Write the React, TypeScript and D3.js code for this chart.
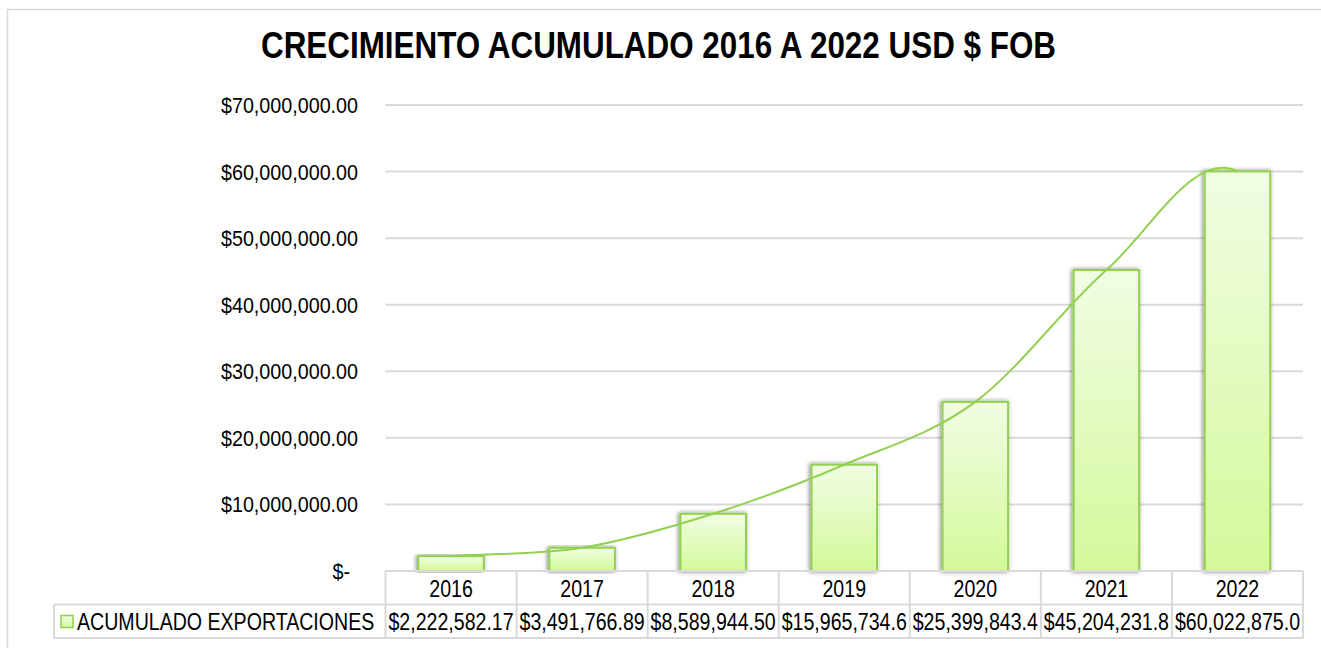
import React from "react";
import * as d3 from "d3";

const years = ["2016", "2017", "2018", "2019", "2020", "2021", "2022"];
const values = [2222582.17, 3491766.89, 8589944.5, 15965734.6, 25399843.4, 45204231.8, 60022875.0];
const valueLabels = ["$2,222,582.17", "$3,491,766.89", "$8,589,944.50", "$15,965,734.6", "$25,399,843.4", "$45,204,231.8", "$60,022,875.0"];
const yTicks = [0, 10000000, 20000000, 30000000, 40000000, 50000000, 60000000, 70000000];
const seriesName = "ACUMULADO EXPORTACIONES";
const title = "CRECIMIENTO ACUMULADO 2016 A 2022 USD $ FOB";

const W = 1321;
const H = 648;
const FONT = "'Liberation Sans', Arial, sans-serif";
const GREEN = "#92D050";
const GRID = "#d9d9d9";

function excelSmooth(pts: [number, number][]): string {
  const n = pts.length;
  const get = (i: number): [number, number] => {
    if (i < 0) {
      const [x0, y0] = pts[0];
      const [x1, y1] = pts[1];
      return [2 * x0 - x1, 2 * y0 - y1];
    }
    if (i >= n) {
      const [xa] = pts[n - 1];
      const [xb] = pts[n - 2];
      return [2 * xa - xb, pts[n - 3][1]];
    }
    return pts[i];
  };
  const path = d3.path();
  path.moveTo(pts[0][0], pts[0][1]);
  for (let i = 0; i < n - 1; i++) {
    const p0 = get(i - 1), p1 = get(i), p2 = get(i + 1), p3 = get(i + 2);
    const c1x = p1[0] + (p2[0] - p0[0]) / 6;
    const c1y = p1[1] + (p2[1] - p0[1]) / 6;
    const c2x = p2[0] - (p3[0] - p1[0]) / 6;
    const c2y = p2[1] - (p3[1] - p1[1]) / 6;
    path.bezierCurveTo(c1x, c1y, c2x, c2y, p2[0], p2[1]);
  }
  return path.toString();
}

function NText(props: {
  x: number;
  y: number;
  sx: number;
  size: number;
  anchor?: "start" | "middle" | "end";
  weight?: string;
  children: React.ReactNode;
}) {
  const { x, y, sx, size, anchor = "start", weight = "normal", children } = props;
  return (
    <text
      transform={`translate(${x},${y}) scale(${sx},1)`}
      textAnchor={anchor}
      fontSize={size}
      fontWeight={weight}
      fill="#000"
    >
      {children}
    </text>
  );
}

export default function App() {
  const plotLeft = 385.5;
  const plotRight = 1303;
  const yTop = 105;
  const yBottom = 571;
  const headerBottom = 604.5;
  const tableBottom = 638;
  const legendLeft = 54;

  const x = d3.scaleBand<string>().domain(years).range([plotLeft, plotRight]).paddingInner(0).paddingOuter(0);
  const y = d3.scaleLinear().domain([0, 70000000]).range([yBottom, yTop]);
  const bw = x.bandwidth();
  const barW = bw * 0.5;
  const fmt = d3.format("$,.2f");

  const pts: [number, number][] = years.map((yr, i) => [(x(yr) as number) + bw / 2, y(values[i])]);
  const linePath = excelSmooth(pts);

  const boundaries = years.map((yr) => x(yr) as number).concat([plotRight]);

  return (
    <svg width={W} height={H} style={{ position: "absolute", left: 0, top: 0, background: "#fff" }} fontFamily={FONT}>
      <defs>
        <linearGradient id="barGrad" x1="0" y1="0" x2="0" y2="1">
          <stop offset="0%" stopColor="#f1fde3" />
          <stop offset="100%" stopColor="#d3f99a" />
        </linearGradient>
        <filter id="shadow" x="-30%" y="-10%" width="160%" height="120%">
          <feDropShadow dx="-1" dy="0" stdDeviation="2" floodColor="#000" floodOpacity="0.5" />
        </filter>
      </defs>
      <rect x={0} y={0} width={W} height={H} fill="#fff" />
      <rect x={7.5} y={9.5} width={W + 20} height={H + 20} fill="none" stroke={GRID} strokeWidth={1.5} />

      <text x={261} y={58} textLength={795} lengthAdjust="spacingAndGlyphs" fontSize={36} fontWeight="bold" fill="#000">
        {title}
      </text>

      {yTicks.slice(1).map((t) => (
        <line key={t} x1={plotLeft} x2={plotRight} y1={y(t)} y2={y(t)} stroke={GRID} strokeWidth={2} />
      ))}

      {yTicks.map((t) => (
        <NText key={"l" + t} x={t === 0 ? 350 : 358} y={y(t) + 8} sx={0.897} size={22} anchor="end">
          {t === 0 ? "$-" : fmt(t)}
        </NText>
      ))}

      {years.map((yr, i) => (
        <rect
          key={yr}
          x={(x(yr) as number) + (bw - barW) / 2}
          y={y(values[i])}
          width={barW}
          height={yBottom - y(values[i])}
          fill="url(#barGrad)"
          stroke={GREEN}
          strokeWidth={2}
          filter="url(#shadow)"
        />
      ))}

      <path d={linePath} fill="none" stroke={GREEN} strokeWidth={2} />

      <line x1={plotLeft} x2={plotRight} y1={yBottom} y2={yBottom} stroke={GRID} strokeWidth={2} />
      <line x1={legendLeft} x2={plotRight} y1={headerBottom} y2={headerBottom} stroke={GRID} strokeWidth={2} />
      <line x1={legendLeft} x2={plotRight} y1={tableBottom} y2={tableBottom} stroke={GRID} strokeWidth={2} />
      <line x1={legendLeft} x2={legendLeft} y1={headerBottom} y2={tableBottom} stroke={GRID} strokeWidth={2} />
      {boundaries.map((bx, i) => (
        <line key={"v" + i} x1={bx} x2={bx} y1={yBottom} y2={tableBottom} stroke={GRID} strokeWidth={2} />
      ))}
      {years.map((yr) => (
        <NText key={"h" + yr} x={(x(yr) as number) + bw / 2} y={596.5} sx={0.816} size={24} anchor="middle">
          {yr}
        </NText>
      ))}
      {years.map((yr, i) => (
        <NText key={"d" + yr} x={(x(yr) as number) + bw / 2} y={629.5} sx={0.816} size={24} anchor="middle">
          {valueLabels[i]}
        </NText>
      ))}
      <rect x={61} y={615.5} width={12} height={12} fill="url(#barGrad)" stroke={GREEN} strokeWidth={1.5} />
      <NText x={77} y={629.5} sx={0.816} size={24}>
        {seriesName}
      </NText>
    </svg>
  );
}
